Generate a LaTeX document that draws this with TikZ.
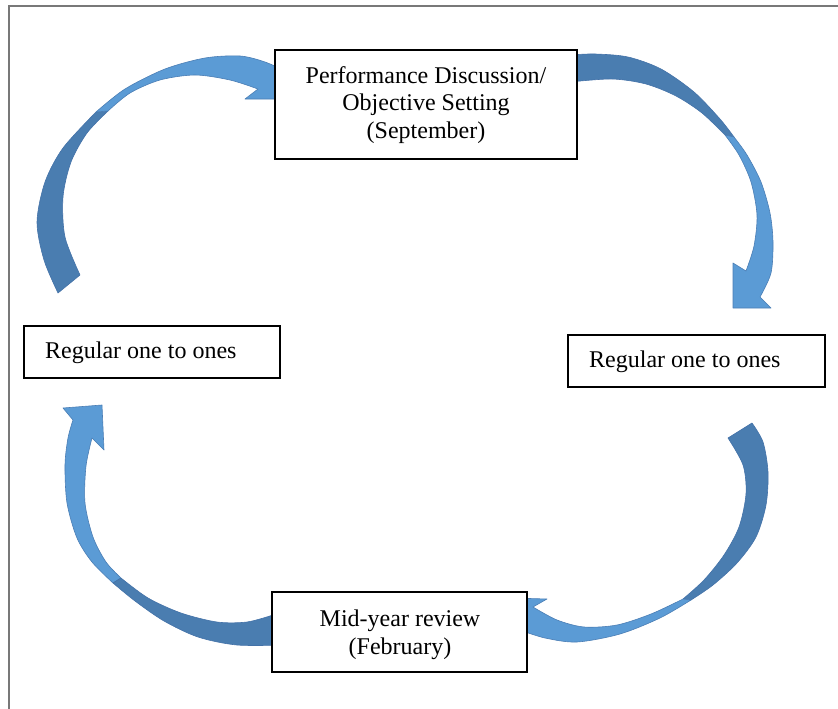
\documentclass[tikz,border=0pt]{standalone}
\usepackage{fontspec}
\setmainfont{Liberation Serif}
\definecolor{arrlight}{HTML}{5B9BD5}
\definecolor{arrdark}{HTML}{4A7DB0}
\definecolor{arredge}{HTML}{4472A8}
\definecolor{framegray}{RGB}{120,120,120}
\begin{document}
\begin{tikzpicture}[x=1pt,y=-1pt,
  boxnode/.style={draw=black, line width=1.1pt, fill=white, inner sep=0pt},
  txt/.style={font=\fontsize{24}{27.5}\selectfont, inner sep=0pt, align=center},
  darkpart/.style={fill=arrdark, draw=arredge, line width=0.6pt, line join=round},
  lightpart/.style={fill=arrlight, draw=arredge!70!arrlight, line width=0.6pt, line join=round},
  frameline/.style={draw=framegray, line width=1.6pt}]
\useasboundingbox (0,0) rectangle (838,709);
% page frame
\draw[frameline] (9,709) -- (9,6) -- (838,6);

% arrow 1 (top left)
\path[darkpart] plot[smooth] coordinates {(58,293) (44,260) (37,222) (45,182) (63,148) (96,112)}
  -- plot[smooth] coordinates {(108,111) (87,133) (71,162) (63,197) (65,237) (80,275)} -- cycle;
\path[lightpart] plot[smooth] coordinates {(96,112) (125,89) (165,69) (205,58) (240,56) (265,62) (290,73)}
  -- (300,78) -- (300,99) -- (245,99)
  -- plot[smooth] coordinates {(258,89) (230,80) (195,75) (160,80) (130,93) (108,111)} -- cycle;

% arrow 2 (top right)
\path[darkpart] plot[smooth] coordinates {(570,55) (595,54) (628,57) (661,69) (694,92) (720,119) (734,137)}
  -- plot[smooth] coordinates {(725,135) (702,113) (676,96) (646,84) (612,79) (570,82)} -- cycle;
\path[lightpart] plot[smooth] coordinates {(734,137) (747,155) (761,182) (770,213) (773,242) (771,273) (760,297)}
  -- (771,308) -- (733,308) -- (733,263)
  -- plot[smooth] coordinates {(746,271) (754,246) (757,215) (751,182) (739,155) (725,135)} -- cycle;

% arrow 3 (bottom right)
\path[darkpart] plot[smooth] coordinates {(752,423) (763,442) (768,472) (766,505) (756,537) (737,563) (713,585) (691,600)}
  -- plot[smooth] coordinates {(683,599) (704,580) (724,555) (739,527) (746,494) (743,465) (728,438)} -- cycle;
\path[lightpart] plot[smooth] coordinates {(691,600) (660,618) (620,634) (577,642) (545,638) (520,630)}
  -- (512,628) -- (512,598) -- (547,599)
  -- plot[smooth] coordinates {(533,607) (557,620) (584,627) (617,625) (651,614) (683,599)} -- cycle;

% arrow 4 (bottom left)
\path[lightpart] plot[smooth] coordinates {(113,583) (92,562) (77,538) (67,503) (65,465) (68,438) (73,420)}
  -- (63,408) -- (102,405) -- (104,450)
  -- plot[smooth] coordinates {(92,438) (86,466) (85,503) (93,537) (106,562) (121,578)} -- cycle;
\path[darkpart] plot[smooth] coordinates {(113,583) (135,601) (164,621) (198,637) (237,645) (285,645)}
  -- (285,614)
  -- plot[smooth] coordinates {(273,615) (247,622) (217,622) (181,613) (148,598) (121,578)} -- cycle;

% boxes
\node[boxnode, minimum width=302pt, minimum height=109pt] (perf) at (426,104.5) {};
\node[boxnode, minimum width=256pt, minimum height=52pt] (leftbox) at (152,352) {};
\node[boxnode, minimum width=257pt, minimum height=52pt] (rightbox) at (696.5,361) {};
\node[boxnode, minimum width=255pt, minimum height=80pt] (midbox) at (399.5,632) {};

% texts
\node[txt] (perftext) at (426,104.7) {Performance Discussion/\\Objective Setting\\(September)};
\node[txt, anchor=base west] (lefttext) at (45,358.3) {Regular one to ones};
\node[txt, anchor=base west] (righttext) at (589,367.3) {Regular one to ones};
\node[txt] (midtext) at (400,635) {Mid-year review\\(February)};
\end{tikzpicture}
\end{document}
